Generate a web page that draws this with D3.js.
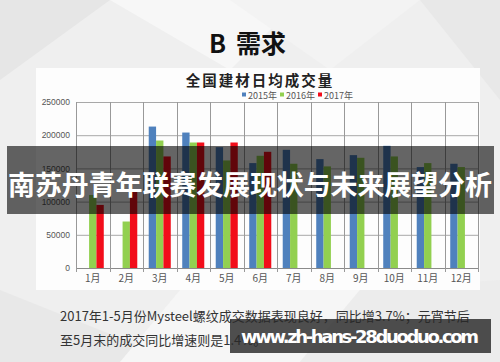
<!doctype html>
<html lang="zh">
<head>
    <meta charset="utf-8">
    <title>全国建材日均成交量</title>
    <style>
        html, body {
            margin: 0;
            padding: 0;
            background-color: #eeeeee;
        }
        svg {
            display: block;
        }
    </style>
</head>
<body>
    <svg width="500" height="362"></svg>

    <script src="https://d3js.org/d3.v7.min.js"></script>
    <script>
        var months = ["1月", "2月", "3月", "4月", "5月", "6月", "7月", "8月", "9月", "10月", "11月", "12月"];
        var seriesNames = ["2015年", "2016年", "2017年"];
        var seriesColors = ["#4f81bd", "#92d050", "#f20d1a"];
        var y2015 = [null, null, 213000, 204000, 182000, 158000, 178000, 164000, 170000, 184000, 152000, 157000];
        var y2016 = [110000, 70000, 192000, 189000, 162000, 169000, 157000, 153000, 166000, 168000, 158000, 152000];
        var y2017 = [95000, 117000, 168000, 189000, 189000, 175000, null, null, null, null, null, null];
        var yTicks = [0, 50000, 100000, 150000, 200000, 250000];

        var series = [y2015, y2016, y2017];

        var svg = d3.select("svg");

        // slide background with soft triangles
        var bg = svg.append("g");
        bg.append("rect").attr("width", 500).attr("height", 362).attr("fill", "#efefef");
        bg.append("polygon").attr("points", "0,0 110,0 0,80").attr("fill", "#e6e6e6");
        bg.append("polygon").attr("points", "110,0 300,0 230,70").attr("fill", "#f7f7f7");
        bg.append("polygon").attr("points", "230,0 420,0 330,70").attr("fill", "#f3f3f3");
        bg.append("polygon").attr("points", "420,0 500,0 500,100").attr("fill", "#e8e8e8");
        bg.append("polygon").attr("points", "0,290 180,362 0,362").attr("fill", "#e8e8e8");
        bg.append("polygon").attr("points", "180,290 360,290 300,362 120,362").attr("fill", "#f6f6f6");
        bg.append("polygon").attr("points", "360,290 500,280 500,362 300,362").attr("fill", "#ececec");

        var title = svg.append("g")
            .attr("font-family", "Noto Sans CJK SC, sans-serif")
            .attr("font-weight", "bold")
            .attr("font-size", 25)
            .attr("fill", "#111");
        title.append("text").attr("x", 209).attr("y", 53).text("B");
        title.append("text").attr("x", 236).attr("y", 53).text("需求");

        // white chart panel
        svg.append("rect")
            .attr("x", 36).attr("y", 68)
            .attr("width", 444).attr("height", 222)
            .attr("fill", "#fdfdfd");

        svg.append("text")
            .attr("x", 260).attr("y", 86)
            .attr("text-anchor", "middle")
            .attr("font-family", "Noto Sans CJK SC, sans-serif")
            .attr("font-weight", "bold")
            .attr("font-size", 14.5)
            .attr("letter-spacing", 2)
            .attr("fill", "#222")
            .text("全国建材日均成交量");

        var x = d3.scaleBand().domain(months).range([76, 478]);
        var xs = d3.scaleBand().domain(seriesNames).range([0, x.bandwidth()]).paddingOuter(0.78);
        var y = d3.scaleLinear().domain([0, 250000]).range([268, 102]);

        // horizontal grid
        svg.append("g")
            .selectAll("line")
            .data(yTicks)
            .enter().append("line")
            .attr("x1", x.range()[0]).attr("x2", x.range()[1])
            .attr("y1", function(d) { return y(d) + 0.5; })
            .attr("y2", function(d) { return y(d) + 0.5; })
            .attr("stroke", function(d) { return d === 0 ? "#8a8a8a" : "#a8a8a8"; })
            .attr("stroke-width", 1);

        // vertical category lines
        var bounds = months.map(function(m) { return x(m); }).concat([x.range()[1]]);
        svg.append("g")
            .selectAll("line")
            .data(bounds)
            .enter().append("line")
            .attr("x1", function(d) { return Math.round(d) + 0.5; })
            .attr("x2", function(d) { return Math.round(d) + 0.5; })
            .attr("y1", y(250000))
            .attr("y2", y(0) + 4)
            .attr("stroke", "#999")
            .attr("stroke-width", 1);

        // bars
        series.forEach(function(vals, si) {
            svg.append("g")
                .attr("fill", seriesColors[si])
                .selectAll("rect")
                .data(vals.map(function(v, i) { return { m: months[i], v: v }; }).filter(function(d) { return d.v !== null; }))
                .enter().append("rect")
                .attr("x", function(d) { return x(d.m) + xs(seriesNames[si]); })
                .attr("width", xs.bandwidth())
                .attr("y", function(d) { return y(d.v); })
                .attr("height", function(d) { return y(0) - y(d.v); });
        });

        // y axis labels
        var yAxis = svg.append("g")
            .attr("transform", "translate(70,0)")
            .call(d3.axisLeft(y).tickValues(yTicks).tickSize(0).tickPadding(0).tickFormat(d3.format("d")));
        yAxis.select(".domain").remove();
        yAxis.selectAll("text")
            .attr("font-family", "Liberation Sans, Arial, sans-serif")
            .attr("font-size", 8.5)
            .attr("fill", "#555");

        // x axis labels
        var xAxis = svg.append("g")
            .attr("transform", "translate(0," + 275 + ")")
            .call(d3.axisBottom(x).tickSize(0).tickPadding(0));
        xAxis.select(".domain").remove();
        xAxis.selectAll("text")
            .attr("font-family", "Noto Sans CJK SC, sans-serif")
            .attr("font-size", 10)
            .attr("fill", "#555");

        // legend
        var legend = svg.append("g")
            .attr("font-family", "Noto Sans CJK SC, sans-serif")
            .attr("font-size", 9)
            .attr("fill", "#555");
        var legendX = [242, 280, 318];
        seriesNames.forEach(function(name, i) {
            legend.append("rect")
                .attr("x", legendX[i]).attr("y", 92.5)
                .attr("width", 4).attr("height", 4)
                .attr("fill", seriesColors[i]);
            legend.append("text")
                .attr("x", legendX[i] + 6).attr("y", 98.5)
                .text(name);
        });

        // caption text
        var caption = svg.append("g")
            .attr("font-family", "Noto Sans CJK SC, sans-serif")
            .attr("font-size", 13)
            .attr("fill", "#333");
        caption.append("text").attr("x", 60).attr("y", 321)
            .text("2017年1-5月份Mysteel螺纹成交数据表现良好，同比增3.7%；元宵节后");
        caption.append("text").attr("x", 60).attr("y", 345)
            .text("至5月末的成交同比增速则是1.4%。");

        // overlay band with headline
        svg.append("rect")
            .attr("x", 7).attr("y", 146)
            .attr("width", 487).attr("height", 68)
            .attr("fill", "rgba(0,0,0,0.6)");
        svg.append("text")
            .attr("x", 250).attr("y", 195)
            .attr("text-anchor", "middle")
            .attr("font-family", "Noto Sans CJK SC, sans-serif")
            .attr("font-weight", "bold")
            .attr("font-size", 27)
            .attr("fill", "#fff")
            .attr("textLength", 484)
            .text("南苏丹青年联赛发展现状与未来展望分析");

        // watermark
        svg.append("rect")
            .attr("x", 230).attr("y", 319)
            .attr("width", 261).attr("height", 34)
            .attr("fill", "rgba(40,40,40,0.82)");
        svg.append("text")
            .attr("x", 241).attr("y", 343)
            .attr("font-family", "DejaVu Sans, sans-serif")
            .attr("font-weight", "bold")
            .attr("font-size", 18)
            .attr("fill", "#fff")
            .attr("textLength", 238)
            .text("www.zh-hans-28duoduo.com");
    </script>
</body>
</html>
